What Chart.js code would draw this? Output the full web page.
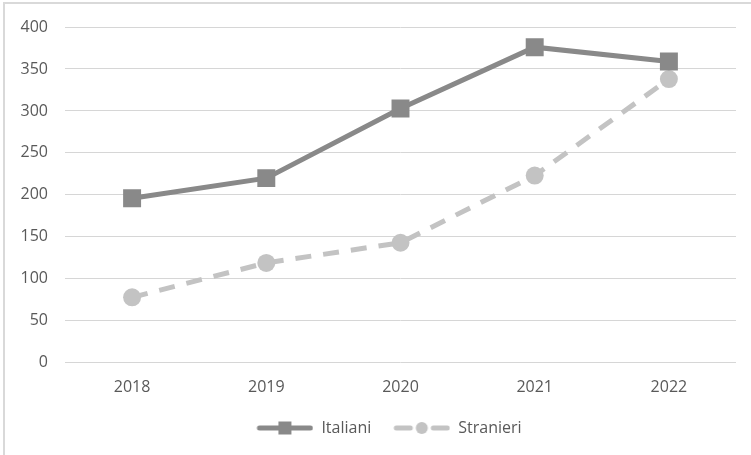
<!DOCTYPE html>
<html>
<head>
<meta charset="utf-8">
<script src="https://cdn.jsdelivr.net/npm/chart.js@4/dist/chart.umd.min.js"></script>
<style>
  body { margin: 0; background: #fff; overflow: hidden; }
  #wrap { position: relative; width: 751px; height: 455px; }
  #frame { position: absolute; left: 3px; top: 2px; width: 780px; height: 480px; border: 2px solid #d9d9d9; }
  canvas { position: absolute; left: 0; top: 0; }
</style>
</head>
<body>
<div id="wrap">
  <div id="frame"></div>
  <canvas id="chart" width="751" height="455"></canvas>
</div>
<script>
const years = ['2018', '2019', '2020', '2021', '2022'];
const italiani = [196, 220, 303, 376, 359];
const stranieri = [78, 119, 143, 223, 338];

const darkGray = '#898989';
const lightGray = '#c3c3c3';

// line + marker icon for the legend, with 14px of empty space on the left
function legendIcon(color, shape, dashed) {
  const c = document.createElement('canvas');
  c.width = 71;
  c.height = 16;
  const g = c.getContext('2d');
  g.translate(14, 0);
  g.strokeStyle = color;
  g.fillStyle = color;
  g.lineWidth = 5;
  g.lineCap = 'round';
  if (dashed) {
    g.beginPath(); g.moveTo(3, 8); g.lineTo(17, 8); g.stroke();
    g.beginPath(); g.moveTo(40, 8); g.lineTo(54, 8); g.stroke();
  } else {
    g.beginPath(); g.moveTo(3, 8); g.lineTo(54, 8); g.stroke();
  }
  if (shape === 'rect') {
    g.fillRect(22, 1.5, 13, 13);
  } else {
    g.beginPath(); g.arc(28.5, 8, 6, 0, Math.PI * 2); g.fill();
    g.fillRect(24, 5.5, 10, 5);
  }
  return c;
}

const icons = [legendIcon(darkGray, 'rect', false), legendIcon(lightGray, 'circle', true)];

const ctx = document.getElementById('chart').getContext('2d');
new Chart(ctx, {
  type: 'line',
  data: {
    labels: years,
    datasets: [{
      label: 'Italiani',
      data: italiani,
      borderColor: darkGray,
      backgroundColor: darkGray,
      borderWidth: 5,
      tension: 0,
      pointStyle: 'rect',
      pointRadius: 12.7,
      pointBorderWidth: 0,
      pointHoverRadius: 12.7
    }, {
      label: 'Stranieri',
      data: stranieri,
      borderColor: lightGray,
      backgroundColor: lightGray,
      borderWidth: 5,
      borderDash: [16, 12],
      tension: 0,
      pointStyle: 'circle',
      pointRadius: 9,
      pointBorderWidth: 0,
      pointHoverRadius: 9
    }]
  },
  options: {
    responsive: false,
    animation: false,
    layout: { padding: { top: 27, right: 15, left: 0, bottom: 9 } },
    scales: {
      x: {
        offset: true,
        grid: { display: false, drawTicks: false },
        border: { display: false },
        ticks: { color: '#595959', padding: 15, font: { family: 'Open Sans', size: 16 } }
      },
      y: {
        min: 0,
        max: 400,
        afterFit: function(scale) { scale.width = 65; },
        grid: { color: '#d6d6d6', lineWidth: 1, drawTicks: false },
        border: { display: false },
        ticks: { stepSize: 50, color: '#595959', padding: 17, font: { family: 'Open Sans', size: 16 } }
      }
    },
    plugins: {
      tooltip: { enabled: false },
      legend: {
        position: 'bottom',
        labels: {
          usePointStyle: true,
          pointStyleWidth: 71,
          padding: 8,
          color: '#595959',
          font: { family: 'Open Sans', size: 16 },
          generateLabels: function(chart) {
            return chart.data.datasets.map(function(ds, i) {
              return {
                text: ds.label,
                pointStyle: icons[i],
                fillStyle: ds.backgroundColor,
                strokeStyle: ds.borderColor,
                lineWidth: 0,
                fontColor: '#595959',
                hidden: false,
                datasetIndex: i
              };
            });
          }
        }
      }
    }
  },
  plugins: [{
    // nudge the legend a little to the right of the canvas centre
    id: 'legendShift',
    afterLayout: function(chart) {
      chart.legend.left += 14;
      chart.legend.right += 14;
    }
  }]
});
</script>
</body>
</html>
